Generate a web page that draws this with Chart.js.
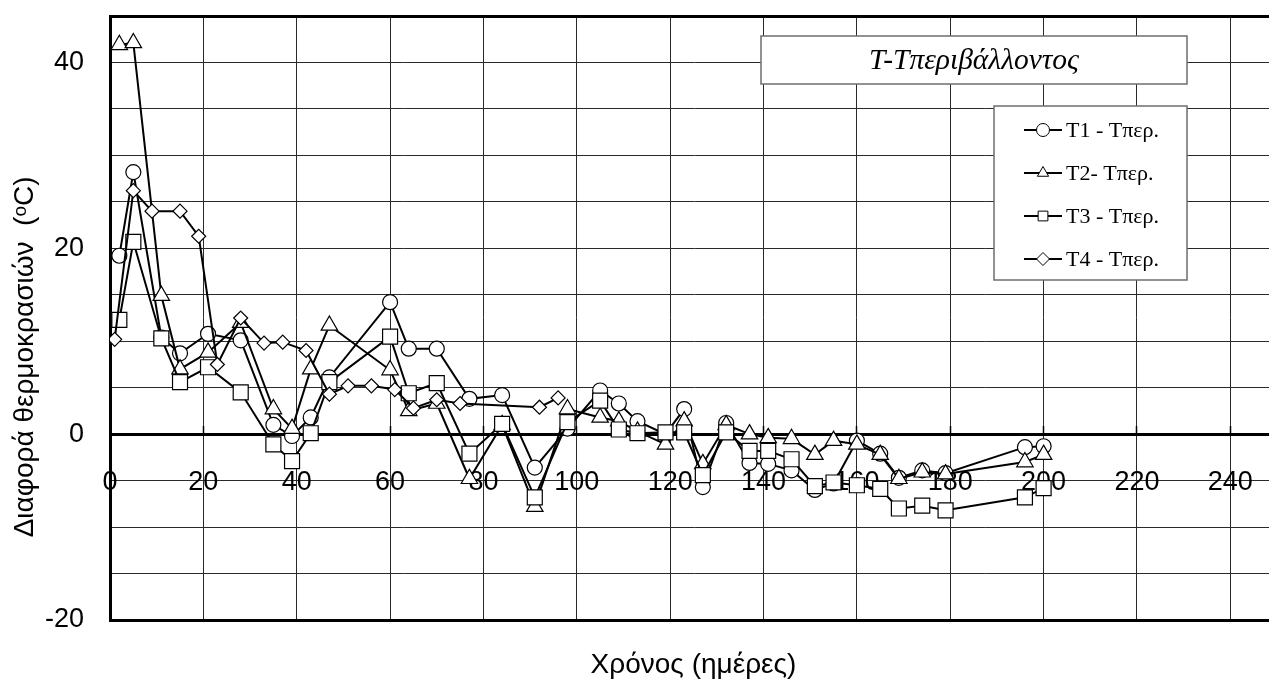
<!DOCTYPE html>
<html>
<head>
<meta charset="utf-8">
<script src="https://cdn.jsdelivr.net/npm/chart.js@4"></script>
<style>
  html, body { margin: 0; padding: 0; background: #fff; overflow: hidden; }
  #wrap { position: absolute; left: 0; top: 0; width: 1290px; height: 679px; }
</style>
</head>
<body>
<div id="wrap"><canvas id="tempChart" width="1290" height="679"></canvas></div>
<script>
/* ---------- data (days, temperature difference in °C) ---------- */

const seriesLabels = ["T1 - Τπερ.", "T2- Τπερ.", "T3 - Τπερ.", "T4 - Τπερ."];
const boxTitle = "T-Τπεριβάλλοντος";
const xTitle = "Χρόνος (ημέρες)";
const yTitle = "Διαφορά θερμοκρασιών  (ᵒC)";

const t1Days = [2, 5, 11, 15, 21, 28, 35, 39, 43, 47, 60, 64, 70, 77, 84, 91, 98, 105, 109, 113,
  119, 123, 127, 132, 137, 141, 146, 151, 155, 160, 165, 169, 174, 179, 196, 200];
const t1Values = [19.2, 28.2, 10.4, 8.7, 10.8, 10.1, 1.0, -0.2, 1.8, 6.1, 14.2, 9.2, 9.2, 3.8, 4.2, -3.6, 0.6, 4.7, 3.3, 1.4,
  0.0, 2.7, -5.7, 1.2, -3.1, -3.2, -3.9, -6.0, -5.3, -0.7, -2.1, -4.7, -3.9, -4.2, -1.4, -1.3];

const t2Days = [2, 5, 11, 15, 21, 28, 35, 39, 43, 47, 60, 64, 70, 77, 84, 91, 98, 105, 109, 113,
  119, 123, 127, 132, 137, 141, 146, 151, 155, 160, 165, 169, 174, 179, 196, 200];
const t2Values = [41.9, 42.1, 14.9, 7.0, 8.8, 12.0, 2.7, 0.6, 7.0, 11.7, 6.9, 2.5, 3.3, -4.8, 1.0, -7.8, 2.7, 1.8, 1.4, 0.3,
  -1.1, 1.4, -3.2, 1.0, 0.0, -0.4, -0.5, -2.2, -0.7, -1.1, -2.2, -4.8, -4.1, -4.3, -3.0, -2.2];

const t3Days = [2, 5, 11, 15, 21, 28, 35, 39, 43, 47, 60, 64, 70, 77, 84, 91, 98, 105, 109, 113,
  119, 123, 127, 132, 137, 141, 146, 151, 155, 160, 165, 169, 174, 179, 196, 200];
const t3Values = [12.3, 20.7, 10.3, 5.6, 7.2, 4.5, -1.1, -2.9, 0.1, 5.6, 10.5, 4.4, 5.5, -2.1, 1.1, -6.8, 1.3, 3.6, 0.5, 0.1,
  0.2, 0.2, -4.4, 0.2, -1.8, -1.8, -2.7, -5.6, -5.2, -5.5, -5.9, -8.0, -7.7, -8.2, -6.8, -5.8];

const t4Days = [1, 5, 9, 15, 19, 23, 28, 33, 37, 42, 47, 51, 56, 61, 65, 70, 75, 92, 96];
const t4Values = [10.2, 26.2, 24.0, 24.0, 21.3, 7.5, 12.5, 9.8, 9.9, 9.0, 4.3, 5.2, 5.2, 4.8, 2.8, 3.7, 3.3, 2.9, 3.9];

const pointStyles = ["circle", "triangle", "rect", "rectRot"];
const pointSizes = [7.5, 9.5, 10.6, 7];

/* ---------- helpers ---------- */

function toPoints(days, values) {
  return days.map((d, i) => ({ x: d, y: values[i] }));
}

function buildDataset(idx, days, values) {
  return {
    label: seriesLabels[idx],
    data: toPoints(days, values),
    borderColor: "#000",
    borderWidth: 2,
    backgroundColor: "#fff",
    pointStyle: pointStyles[idx],
    pointRadius: pointSizes[idx],
    pointBorderWidth: 1.2,
    pointBorderColor: "#000",
    pointBackgroundColor: "#fff",
    tension: 0,
    order: 3 - idx   // later series drawn on top, like the original
  };
}

const tickFont = { family: "'Liberation Sans', Arial, sans-serif", size: 27 };
const titleFont = { family: "'Liberation Sans', Arial, sans-serif", size: 28, lineHeight: 1 };
const gridColor = "#2a2a2a";

// scales should not push the plot area in for their labels
function noLabelPadding(scale) {
  scale.paddingLeft = 0;
  scale.paddingRight = 0;
  scale.paddingTop = 0;
  scale.paddingBottom = 0;
}

/* ---------- title box + legend (drawn on the canvas) ---------- */

function drawMarker(ctx, style, x, y, r) {
  ctx.beginPath();
  if (style === "circle") {
    ctx.arc(x, y, r, 0, Math.PI * 2);
  } else if (style === "triangle") {
    ctx.moveTo(x, y - r);
    ctx.lineTo(x + r * 0.866, y + r * 0.5);
    ctx.lineTo(x - r * 0.866, y + r * 0.5);
    ctx.closePath();
  } else if (style === "rect") {
    ctx.rect(x - r * 0.75, y - r * 0.75, r * 1.5, r * 1.5);
  } else {
    ctx.moveTo(x - r, y);
    ctx.lineTo(x, y - r);
    ctx.lineTo(x + r, y);
    ctx.lineTo(x, y + r);
    ctx.closePath();
  }
  ctx.fill();
  ctx.stroke();
}

const legendBox = {
  id: "legendBox",
  afterDraw(chart) {
    const ctx = chart.ctx;
    ctx.save();

    // title box
    ctx.fillStyle = "#fff";
    ctx.strokeStyle = "#6e6e6e";
    ctx.lineWidth = 1.5;
    ctx.fillRect(761, 36, 426, 48);
    ctx.strokeRect(761, 36, 426, 48);
    ctx.fillStyle = "#000";
    ctx.font = "italic 29.5px 'Liberation Serif', serif";
    ctx.textAlign = "center";
    ctx.textBaseline = "middle";
    ctx.fillText(boxTitle, 974, 61);

    // legend box
    ctx.fillStyle = "#fff";
    ctx.fillRect(994, 106, 193, 174);
    ctx.strokeRect(994, 106, 193, 174);

    ctx.font = "22px 'Liberation Serif', serif";
    ctx.textAlign = "left";
    chart.data.datasets.forEach((ds, i) => {
      const y = 130 + i * 43;
      ctx.strokeStyle = "#000";
      ctx.lineWidth = 2;
      ctx.beginPath();
      ctx.moveTo(1024, y);
      ctx.lineTo(1062, y);
      ctx.stroke();
      ctx.fillStyle = "#fff";
      ctx.lineWidth = 1;
      drawMarker(ctx, ds.pointStyle, 1043, y, 6.5);
      ctx.fillStyle = "#000";
      ctx.fillText(ds.label, 1066, y + 1);
    });

    ctx.restore();
  }
};

/* ---------- chart ---------- */

new Chart(document.getElementById("tempChart"), {
  type: "line",
  data: {
    datasets: [
      buildDataset(0, t1Days, t1Values),
      buildDataset(1, t2Days, t2Values),
      buildDataset(2, t3Days, t3Values),
      buildDataset(3, t4Days, t4Values)
    ]
  },
  options: {
    responsive: false,
    animation: false,
    events: [],
    layout: { padding: { left: 0, right: 13, top: 0, bottom: 0 } },
    plugins: {
      legend: { display: false },
      tooltip: { enabled: false }
    },
    scales: {
      x: {
        type: "linear",
        position: "bottom",
        min: 0,
        max: 250,
        ticks: { display: false, stepSize: 20, includeBounds: false },
        grid: { color: gridColor, lineWidth: 1, drawTicks: false },
        border: { color: "#000", width: 3 },
        title: {
          display: true,
          text: xTitle,
          color: "#000",
          font: titleFont,
          padding: { top: 0, bottom: 0 }
        },
        afterFit(scale) {
          scale.height = 59;
          noLabelPadding(scale);
        }
      },
      xTop: {
        type: "linear",
        position: "top",
        min: 0,
        max: 250,
        ticks: { display: false },
        grid: { drawOnChartArea: false, drawTicks: false },
        border: { color: "#000", width: 3 },
        afterFit(scale) {
          scale.height = 16;
          noLabelPadding(scale);
        }
      },
      x0: {
        type: "linear",
        position: { y: 0 },
        min: 0,
        max: 250,
        z: 1,
        ticks: {
          stepSize: 20,
          includeBounds: false,
          padding: 42,
          color: "#000",
          font: tickFont,
          maxRotation: 0,
          autoSkip: false
        },
        grid: { drawOnChartArea: false, drawTicks: true, tickLength: -10, tickColor: "#000", tickWidth: 1.5 },
        border: { color: "#000", width: 3 },
        afterFit: noLabelPadding
      },
      y: {
        min: -20,
        max: 45,
        ticks: {
          stepSize: 5,
          padding: 26,
          color: "#000",
          font: tickFont,
          callback: v => (v % 20 === 0 ? v : "")
        },
        grid: { color: gridColor, lineWidth: 1, drawTicks: false },
        border: { color: "#000", width: 3 },
        title: {
          display: true,
          text: yTitle + "          ",
          color: "#000",
          font: titleFont,
          padding: { top: 11, bottom: 0 }
        },
        afterFit(scale) {
          scale.width = 110;
          noLabelPadding(scale);
        }
      }
    }
  },
  plugins: [legendBox]
});
</script>
</body>
</html>
